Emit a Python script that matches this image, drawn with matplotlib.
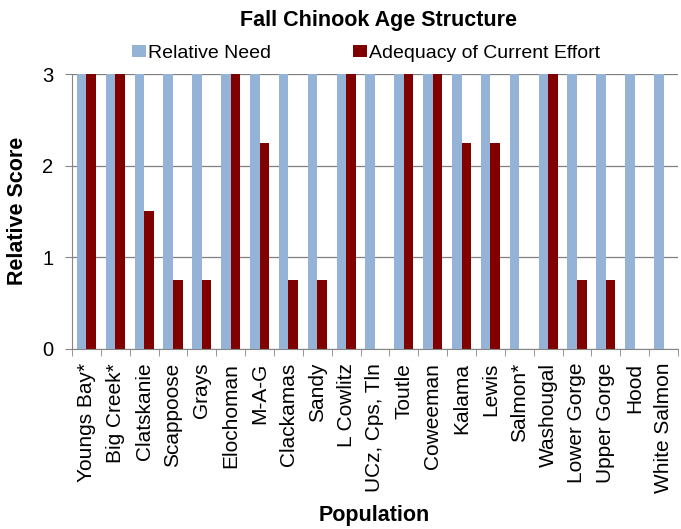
import matplotlib.pyplot as plt
import numpy as np

plt.rcParams['font.family'] = ['Liberation Sans', 'DejaVu Sans']

populations = ['Youngs Bay*', 'Big Creek*', 'Clatskanie', 'Scappoose', 'Grays',
               'Elochoman', 'M-A-G', 'Clackamas', 'Sandy', 'L Cowlitz',
               'UCz, Cps, Tln', 'Toutle', 'Coweeman', 'Kalama', 'Lewis',
               'Salmon*', 'Washougal', 'Lower Gorge', 'Upper Gorge', 'Hood',
               'White Salmon']
relative_need = [3] * len(populations)
adequacy = [3, 3, 1.5, 0.75, 0.75, 3, 2.25, 0.75, 0.75, 3,
            0, 3, 3, 2.25, 2.25, 0, 3, 0.75, 0.75, 0, 0]

x = np.arange(len(populations))
w = 0.33
axis_grey = '#868686'

fig = plt.figure(figsize=(6.81, 5.29), dpi=100)
ax = fig.add_axes([0.1057, 0.3403, 0.8899, 0.5198])
ax.set_axisbelow(True)
ax.yaxis.grid(True, color='#7f7f7f', linewidth=0.9)
ax.bar(x - w / 2, relative_need, w, color='#95B3D7', label='Relative Need', zorder=2)
ax.bar(x + w / 2, adequacy, w, color='#800000', label='Adequacy of Current Effort', zorder=2)

ax.set_xlim(-0.5, len(populations) - 0.5)
ax.set_ylim(0, 3)
ax.set_yticks([0, 1, 2, 3])
ax.tick_params(axis='y', labelsize=14.5, direction='out', length=5, pad=8.5, color=axis_grey)
ax.set_xticks(x)
ax.set_xticklabels(populations, rotation=90, fontsize=15)
ax.tick_params(axis='x', length=0, pad=10)
# category separators as outward minor ticks
ax.set_xticks(np.arange(len(populations) + 1) - 0.5, minor=True)
ax.tick_params(axis='x', which='minor', length=5, direction='out', color=axis_grey)
for s in ['top', 'right']:
    ax.spines[s].set_visible(False)
for s in ['left', 'bottom']:
    ax.spines[s].set_color(axis_grey)

fig.text(0.0264, 0.601, 'Relative Score', rotation=90, ha='center', va='center',
         fontsize=15.5, fontweight='bold')
fig.text(0.549, 0.0151, 'Population', ha='center', va='baseline',
         fontsize=15.5, fontweight='bold')
fig.text(0.5565, 0.951, 'Fall Chinook Age Structure', ha='center', va='baseline',
         fontsize=15.5, fontweight='bold')
fig.legend(loc='center', bbox_to_anchor=(0.5375, 0.899), ncol=2, frameon=False,
           fontsize=14, handlelength=0.72, handleheight=0.6, handletextpad=0.12,
           columnspacing=4.2, borderaxespad=0.0)

fig.savefig('out.png', dpi=100)
